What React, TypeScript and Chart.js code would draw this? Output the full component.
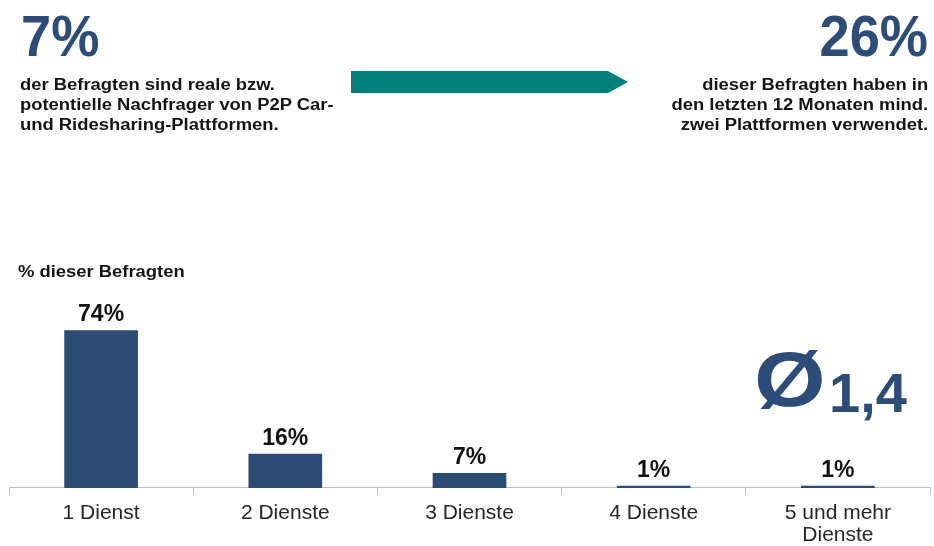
import React, { useEffect, useRef } from "react";
import { Chart, registerables } from "chart.js";

Chart.register(...registerables);

const categories: (string | string[])[] = ["1 Dienst", "2 Dienste", "3 Dienste", "4 Dienste", ["5 und mehr", "Dienste"]];
const shares: number[] = [74, 16, 7, 1, 1];
const headlineLeft = "7%";
const headlineLeftText = ["der Befragten sind reale bzw.", "potentielle Nachfrager von P2P Car-", "und Ridesharing-Plattformen."];
const headlineRight = "26%";
const headlineRightText = ["dieser Befragten haben in", "den letzten 12 Monaten mind.", "zwei Plattformen verwendet."];
const axisTitle = "% dieser Befragten";
const averageSymbol = "Ø";
const averageValue = "1,4";

const FONT = "'Liberation Sans', Arial, sans-serif";
const BLUE = "#2C4C7A";
const BAR = "#2B4A74";
const TEAL = "#00807B";

const labelPlugin = {
  id: "barLabels",
  afterDatasetsDraw(chart: any) {
    const ctx = chart.ctx;
    const meta = chart.getDatasetMeta(0);
    ctx.save();
    ctx.font = `bold 23px ${FONT}`;
    ctx.fillStyle = "#111111";
    ctx.textAlign = "center";
    ctx.textBaseline = "alphabetic";
    meta.data.forEach((bar: any, i: number) => {
      ctx.fillText(`${shares[i]}%`, bar.x, bar.y - 9);
    });
    ctx.restore();
  },
};

export default function App() {
  const ref = useRef<HTMLCanvasElement | null>(null);
  useEffect(() => {
    document.body.style.margin = "0";
    if (!ref.current) return;
    const chart = new Chart(ref.current, {
      type: "bar",
      data: {
        labels: categories,
        datasets: [
          {
            data: shares,
            backgroundColor: BAR,
            borderWidth: 0,
            barPercentage: 0.8,
            categoryPercentage: 0.5,
          },
        ],
      },
      options: {
        animation: false,
        responsive: false,
        maintainAspectRatio: false,
        layout: { padding: { top: 275, left: 9, right: 4, bottom: -7 } },
        plugins: { legend: { display: false }, tooltip: { enabled: false } },
        scales: {
          y: { display: false, min: 0, max: 100 },
          x: {
            offset: true,
            border: { display: true, color: "#BFBFBF", width: 1 },
            grid: {
              display: true,
              offset: true,
              drawOnChartArea: false,
              drawTicks: true,
              tickLength: 7,
              color: "#BFBFBF",
            },
            ticks: {
              color: "#262626",
              padding: 7,
              maxRotation: 0,
              autoSkip: false,
              font: { family: FONT, size: 21, lineHeight: 1.05 },
            },
          },
        },
      },
      plugins: [labelPlugin],
    });
    return () => chart.destroy();
  }, []);

  const base: React.CSSProperties = { position: "absolute", fontFamily: FONT, fontWeight: "bold", margin: 0, whiteSpace: "nowrap" };

  return (
    <div style={{ position: "absolute", left: 0, top: 0, width: 934, height: 546, background: "#fff", overflow: "hidden" }}>
      <canvas ref={ref} width={934} height={546} style={{ position: "absolute", left: 0, top: 0, width: 934, height: 546 }} />
      <div style={{ ...base, left: 21, top: 7, fontSize: 58, lineHeight: "58px", color: BLUE, transform: "scaleX(0.935)", transformOrigin: "left top" }}>{headlineLeft}</div>
      <div style={{ ...base, left: 20, top: 75, fontSize: 16, lineHeight: "20px", color: "#141414", transform: "scaleX(1.15)", transformOrigin: "left top" }}>
        {headlineLeftText.map((t, i) => (
          <div key={i}>{t}</div>
        ))}
      </div>
      <svg width={934} height={546} style={{ position: "absolute", left: 0, top: 0 }}>
        <polygon points="351,71 608,71 628,82 608,93 351,93" fill={TEAL} />
      </svg>
      <div style={{ ...base, right: 6, top: 7, fontSize: 58, lineHeight: "58px", color: BLUE, textAlign: "right", transform: "scaleX(0.935)", transformOrigin: "right top" }}>{headlineRight}</div>
      <div style={{ ...base, right: 6, top: 75, fontSize: 16, lineHeight: "20px", color: "#141414", textAlign: "right", transform: "scaleX(1.15)", transformOrigin: "right top" }}>
        {headlineRightText.map((t, i) => (
          <div key={i}>{t}</div>
        ))}
      </div>
      <div style={{ ...base, left: 18, top: 261.5, fontSize: 16, lineHeight: "20px", color: "#141414", transform: "scaleX(1.15)", transformOrigin: "left top" }}>{axisTitle}</div>
      <div style={{ ...base, left: 754, top: 341, fontSize: 78, lineHeight: "78px", color: BLUE, transform: "scaleX(1.18)", transformOrigin: "left top" }}>{averageSymbol}</div>
      <div style={{ ...base, left: 829, top: 364.5, fontSize: 56, lineHeight: "56px", color: BLUE }}>{averageValue}</div>
    </div>
  );
}
